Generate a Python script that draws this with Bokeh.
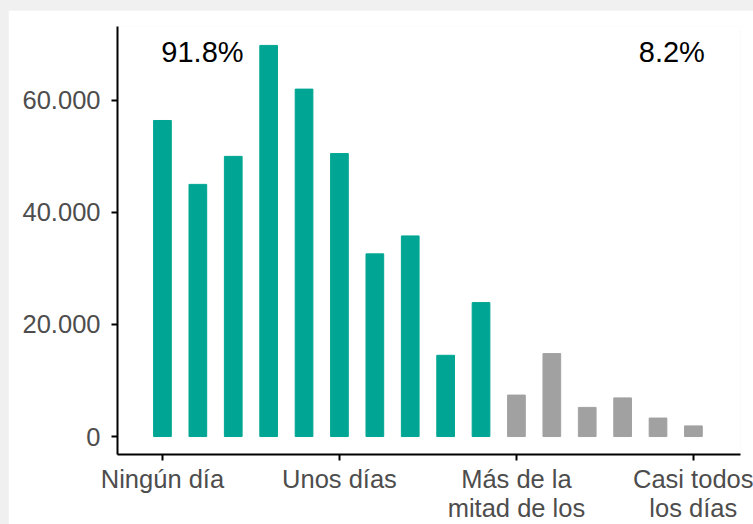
from bokeh.plotting import figure
from bokeh.embed import file_html
from bokeh.resources import INLINE
from bokeh.models import ColumnDataSource, FixedTicker, Range1d, GlobalInlineStyleSheet
from bokeh.core.properties import value

# ---- data ----
values = [56400, 45000, 50000, 69800, 62000, 50500, 32600, 35800,
          14500, 23900, 7400, 14800, 5200, 6900, 3300, 1900]
groups = ["si"] * 10 + ["no"] * 6
tick_positions = [0, 5, 10, 15]
tick_labels = ["Ningún día", "Unos días", "Más de la\nmitad de los", "Casi todos\nlos días"]
y_ticks = [0, 20000, 40000, 60000]
y_labels = ["0", "20.000", "40.000", "60.000"]
annot_text = ["91.8%", "8.2%"]
annot_x = [1.13, 14.39]
annot_y = [68700, 68700]

colors = {"si": "#00A693", "no": "#A1A1A1"}

src = ColumnDataSource(dict(
    x=list(range(len(values))),
    top=values,
    color=[colors[g] for g in groups],
))

p = figure(width=745, height=514, output_backend="svg", toolbar_location=None,
           x_range=Range1d(-1.27, 16.33), y_range=Range1d(-3205, 73175),
           min_border_left=109, min_border_right=13, min_border_top=16, min_border_bottom=69)
p.stylesheets = [GlobalInlineStyleSheet(css="body { background-color: #f0f0f0; }")]
p.styles = {"margin-left": "8px", "margin-top": "10px"}
p.background_fill_color = "white"
p.border_fill_color = "white"
p.outline_line_color = None
p.grid.grid_line_color = None

p.vbar(x="x", top="top", bottom=0, width=0.5, color="color", source=src)

p.text(x=annot_x, y=annot_y, text=annot_text, text_font=value("Liberation Sans"),
       text_font_size="29px", text_color="black", text_align="center",
       text_baseline="alphabetic")

# axes
p.xaxis.ticker = FixedTicker(ticks=tick_positions)
p.xaxis.major_label_overrides = {t: l for t, l in zip(tick_positions, tick_labels)}
p.yaxis.ticker = FixedTicker(ticks=y_ticks)
p.yaxis.major_label_overrides = {t: l for t, l in zip(y_ticks, y_labels)}

for ax in (p.xaxis, p.yaxis):
    ax.axis_line_color = "black"
    ax.axis_line_width = 2
    ax.major_tick_line_color = "black"
    ax.major_tick_line_width = 2
    ax.major_tick_out = 6
    ax.major_tick_in = 0
    ax.minor_tick_line_color = None
    ax.major_label_text_font = "Liberation Sans"
    ax.major_label_text_font_size = "25.5px"
    ax.major_label_text_color = "#4D4D4D"

p.yaxis.major_label_standoff = 11
p.xaxis.major_label_standoff = 4
p.xaxis.major_label_text_line_height = 1.05

open("out.html", "w").write(file_html(p, INLINE))
